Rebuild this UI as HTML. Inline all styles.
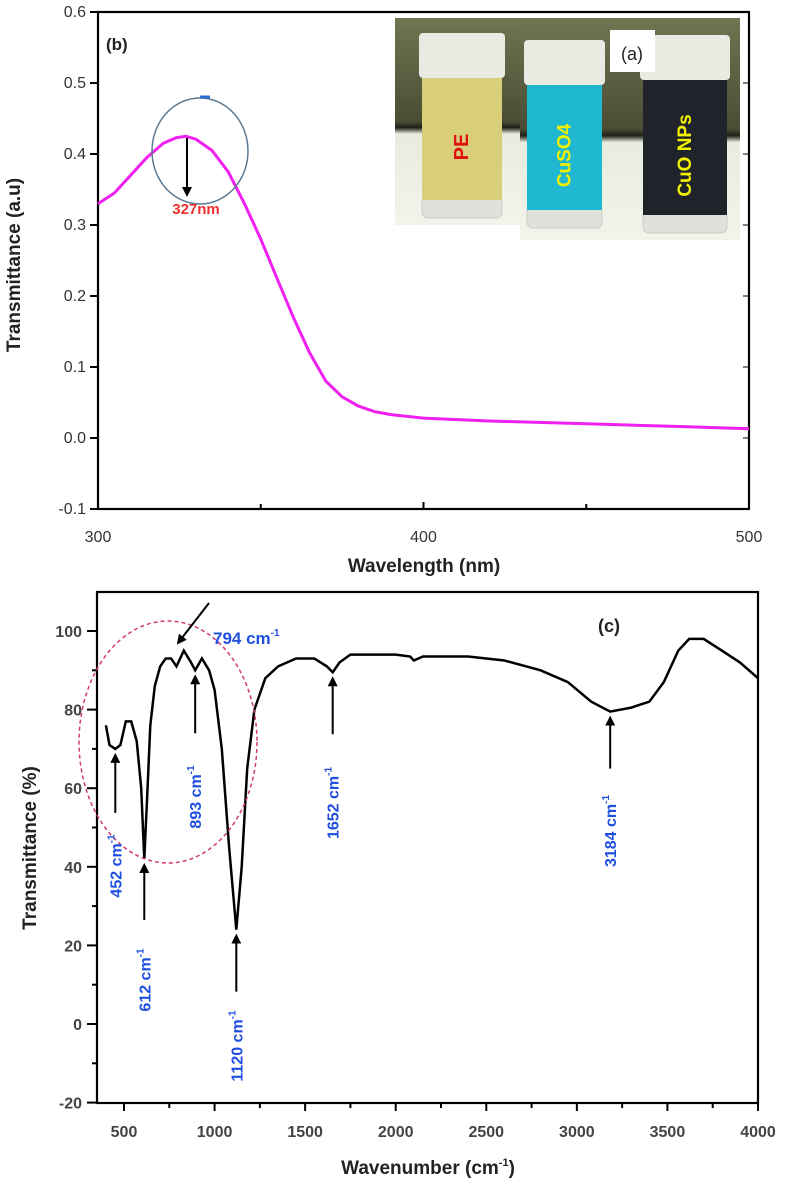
<!DOCTYPE html>
<html><head><meta charset="utf-8"><style>
body{margin:0;background:#fff;width:787px;height:1181px;overflow:hidden}
svg{display:block}
text{font-family:"Liberation Sans",sans-serif}
</style></head><body>
<svg width="787" height="1181" viewBox="0 0 787 1181">
<defs>
<marker id="ah" viewBox="0 0 10 10" refX="8" refY="5" markerWidth="5" markerHeight="5" orient="auto"><path d="M0,0L10,5L0,10z" fill="#000"/></marker>
<linearGradient id="bg" x1="0" y1="0" x2="0" y2="1"><stop offset="0" stop-color="#6f7652"/><stop offset="0.5" stop-color="#4a4d34"/><stop offset="0.53" stop-color="#202018"/><stop offset="0.56" stop-color="#e8ecdf"/><stop offset="1" stop-color="#f2f4ec"/></linearGradient>
</defs>
<g id="top"></g>
<g id="bot"></g>
</svg>
<script>
// ---- UV-vis data ----
const uvX=[300,305,310,315,320,324,327,330,335,340,345,350,355,360,365,370,375,380,385,390,400,420,450,480,500];
const uvY=[0.33,0.345,0.37,0.395,0.415,0.423,0.425,0.421,0.405,0.375,0.33,0.28,0.225,0.17,0.12,0.08,0.058,0.045,0.037,0.033,0.028,0.024,0.02,0.016,0.013];
const uvXTicks=[300,400,500];
const uvYTicks=[-0.1,0.0,0.1,0.2,0.3,0.4,0.5,0.6];
// ---- FTIR data ----
const irX=[400,420,452,480,510,540,570,595,612,628,645,670,700,730,760,790,830,870,893,930,970,1000,1040,1080,1120,1150,1180,1220,1280,1350,1450,1550,1620,1652,1690,1750,2000,2080,2100,2150,2400,2600,2800,2950,3080,3184,3300,3400,3480,3560,3620,3700,3800,3900,4000];
const irY=[76,71,70,71,77,77,72,60,42,58,76,86,91,93,93,91,95,92,90,93,90,85,70,45,24,40,65,80,88,91,93,93,91,89.5,92,94,94,93.5,92.5,93.5,93.5,92.5,90,87,82,79.5,80.5,82,87,95,98,98,95,92,88];
const irXTicks=[500,1000,1500,2000,2500,3000,3500,4000];
const irYTicks=[-20,0,20,40,60,80,100];
const peaks=[452,612,893,1120,1652,3184];

const NS="http://www.w3.org/2000/svg";
function mk(p,t,a,txt){const e=document.createElementNS(NS,t);for(const k in a)e.setAttribute(k,a[k]);if(txt!==undefined)e.textContent=txt;p.appendChild(e);return e;}

// top axes
const T=document.getElementById('top');
const ux=v=>98+(v-300)*(749-98)/200;
const uy=v=>438-v*710;
mk(T,'rect',{x:98,y:12,width:651,height:497,fill:'none',stroke:'#000','stroke-width':2.2});
// photo inset
const P=mk(T,'g',{});


mk(P,'rect',{x:395,y:18,width:345,height:207,fill:'url(#bg)'});
mk(P,'rect',{x:520,y:18,width:220,height:222,fill:'url(#bg)'});
function vial(x,w,top,bodyEnd,col,label,lc,lsize){
  mk(P,'rect',{x:x,y:bodyEnd-4,width:w,height:22,rx:6,fill:'#dfe2da',stroke:'#c8ccc2'});
  mk(P,'rect',{x:x,y:top+45,width:w,height:bodyEnd-top-45,fill:col});
  mk(P,'rect',{x:x-3,y:top,width:w+6,height:45,rx:4,fill:'#e9ebe2'});
  mk(P,'text',{x:0,y:0,transform:`translate(${x+w/2+6},${(top+45+bodyEnd)/2+8}) rotate(-90)`,'text-anchor':'middle','font-family':'Liberation Serif,serif','font-weight':'bold','font-size':lsize,fill:lc},label);
}
vial(422,80,33,200,'#d9cf7a','PE','#e01010',20);
vial(527,75,40,210,'#1fb8d0','CuSO4','#f0f000',19);
vial(643,84,35,215,'#20242a','CuO NPs','#f0f000',19);
mk(P,'rect',{x:610,y:30,width:45,height:42,fill:'#fff'});
mk(P,'text',{x:632,y:60,'text-anchor':'middle','font-size':18,fill:'#222'},'(a)');
// ticks
uvXTicks.forEach(v=>{mk(T,'line',{x1:ux(v),x2:ux(v),y1:509,y2:502,stroke:'#000','stroke-width':2});
 const t=mk(T,'text',{x:ux(v),y:542,'text-anchor':'middle','font-size':16,fill:'#333'},String(v));});
[350,450].forEach(v=>mk(T,'line',{x1:ux(v),x2:ux(v),y1:509,y2:504,stroke:'#000','stroke-width':2}));
uvYTicks.forEach(v=>{mk(T,'line',{x1:98,x2:90,y1:uy(v),y2:uy(v),stroke:'#000','stroke-width':2});
 mk(T,'line',{x1:749,x2:743,y1:uy(v),y2:uy(v),stroke:'#000','stroke-width':1});
 const t=mk(T,'text',{x:86,y:uy(v)+5,'text-anchor':'end','font-size':16,fill:'#333'},v.toFixed(1));});
// curve
const uvPath=mk(T,'path',{d:uvX.map((x,i)=>(i?'L':'M')+ux(x).toFixed(1)+','+uy(uvY[i]).toFixed(1)).join(''),fill:'none',stroke:'#f020f0','stroke-width':3});


mk(T,'ellipse',{cx:200,cy:151,rx:48,ry:53,fill:'none',stroke:'#5a7a95','stroke-width':1.5});
mk(T,'line',{x1:200,x2:210,y1:97,y2:97,stroke:'#2a6fd0','stroke-width':3});
mk(T,'line',{x1:187,x2:187,y1:138,y2:195,stroke:'#000','stroke-width':2,'marker-end':'url(#ah)'});
mk(T,'text',{x:196,y:214,'text-anchor':'middle','font-size':15,'font-weight':'bold',fill:'#f03030'},'327nm');
mk(T,'text',{x:106,y:50,'font-size':17,'font-weight':'bold',fill:'#222'},'(b)');
mk(T,'text',{x:0,y:0,transform:'translate(20,265) rotate(-90)','text-anchor':'middle','font-size':19,'font-weight':'bold',fill:'#222'},'Transmittance (a.u)');
mk(T,'text',{x:424,y:572,'text-anchor':'middle','font-size':19,'font-weight':'bold',fill:'#222'},'Wavelength (nm)');

// bottom axes
const B=document.getElementById('bot');
const ix=v=>124+(v-500)*(758-124)/3500;
const iy=v=>631+(100-v)*3.93;
mk(B,'rect',{x:97,y:592,width:661,height:511,fill:'none',stroke:'#000','stroke-width':2.2});
irXTicks.forEach(v=>{mk(B,'line',{x1:ix(v),x2:ix(v),y1:1103,y2:1111,stroke:'#000','stroke-width':2});
 const t=mk(B,'text',{x:ix(v),y:1137,'text-anchor':'middle','font-size':16,'font-weight':'bold',fill:'#444'},String(v));});
irXTicks.forEach(v=>{if(v<4000)mk(B,'line',{x1:ix(v+250),x2:ix(v+250),y1:1103,y2:1108,stroke:'#000','stroke-width':2});});
irYTicks.forEach(v=>{mk(B,'line',{x1:97,x2:87,y1:iy(v),y2:iy(v),stroke:'#000','stroke-width':2});
 if(v<100)mk(B,'line',{x1:97,x2:92,y1:iy(v+10),y2:iy(v+10),stroke:'#000','stroke-width':2});
 const t=mk(B,'text',{x:82,y:iy(v)+6,'text-anchor':'end','font-size':16,'font-weight':'bold',fill:'#444'},String(v));});
const irPath=mk(B,'path',{d:irX.map((x,i)=>(i?'L':'M')+ix(x).toFixed(1)+','+iy(irY[i]).toFixed(1)).join(''),fill:'none',stroke:'#000','stroke-width':2.5});


mk(B,'ellipse',{cx:168,cy:742,rx:89,ry:121,fill:'none',stroke:'#d03a7a','stroke-width':1.5,'stroke-dasharray':'4,3'});
// peak arrows and labels
const arrowLen=[58,55,57,56,56,51];
const labelCenter=[866,980,797,1046,803,831];
peaks.forEach((p,i)=>{
  const x=ix(p), v=irY[irX.indexOf(p)];
  const tip=iy(v)+6;
  const a=mk(B,'line',{x1:x,x2:x,y1:tip+arrowLen[i],y2:tip,stroke:'#000','stroke-width':2,'marker-end':'url(#ah)'});
  
  const t=mk(B,'text',{x:0,y:0,transform:`translate(${x+6},${labelCenter[i]}) rotate(-90)`,'text-anchor':'middle','font-size':16,'font-weight':'bold',fill:'#1f4fe0'});
  
  
  t.appendChild(document.createTextNode(p+' cm'));
  mk(t,'tspan',{dy:-7,'font-size':10},'-1');
});
mk(B,'line',{x1:209,x2:178,y1:603,y2:643,stroke:'#000','stroke-width':2,'marker-end':'url(#ah)'});
const t794=mk(B,'text',{x:213,y:644,'font-size':17,'font-weight':'bold',fill:'#1f4fe0'},'794 cm');

mk(t794,'tspan',{dy:-8,'font-size':10},'-1');
mk(B,'text',{x:598,y:632,'font-size':18,'font-weight':'bold',fill:'#222'},'(c)');
mk(B,'text',{x:0,y:0,transform:'translate(36,848) rotate(-90)','text-anchor':'middle','font-size':19,'font-weight':'bold',fill:'#222'},'Transmittance (%)');
const xt=mk(B,'text',{x:428,y:1174,'text-anchor':'middle','font-size':19,'font-weight':'bold',fill:'#222'},'Wavenumber (cm');

mk(xt,'tspan',{dy:-8,'font-size':11},'-1');
mk(xt,'tspan',{dy:8},')');
</script>
</body></html>
